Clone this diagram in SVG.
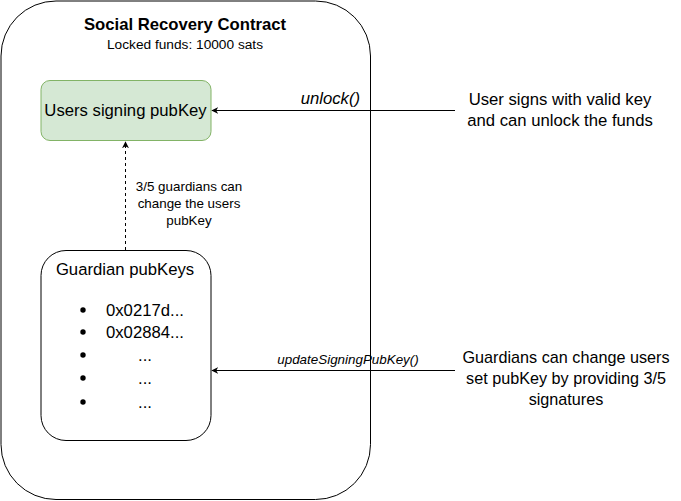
<svg xmlns="http://www.w3.org/2000/svg" width="681" height="501" viewBox="0 0 681 501">
<style>
text{font-family:"Liberation Sans",Arial,sans-serif;fill:#000}
.t16{font-size:16.7px}
.t12{font-size:13.4px}
.c{text-anchor:middle}
.line{stroke:#000;stroke-width:1;fill:none}
</style>
<defs>
<marker id="ah" viewBox="0 0 10 10" refX="9" refY="5" markerWidth="7" markerHeight="7" orient="auto" markerUnits="userSpaceOnUse">
<path d="M0,0 L10,5 L0,10 L3,5 Z" fill="#000"/>
</marker>
</defs>
<rect width="681" height="501" fill="#fff"/>
<g id="contract">
<rect x="1" y="1" width="369.5" height="498.5" rx="55" ry="55" fill="#fff" stroke="#000" stroke-width="1"/>
<text x="185" y="30" class="t16 c" font-weight="bold">Social Recovery Contract</text>
<text x="185" y="49" class="c" font-size="13.7px">Locked funds: 10000 sats</text>
</g>
<g id="signing-key">
<rect x="41" y="80.5" width="170" height="60" rx="9" ry="9" fill="#d5e8d4" stroke="#82b366"/>
<text x="125.5" y="116" class="t16 c">Users signing pubKey</text>
</g>
<g id="guardian-keys">
<rect x="41" y="250.5" width="170" height="190" rx="25" ry="25" fill="#fff" stroke="#000"/>
<text x="125" y="275" class="t16 c">Guardian pubKeys</text>
<circle cx="83" cy="310" r="2.7"/>
<circle cx="83" cy="332" r="2.7"/>
<circle cx="83" cy="355" r="2.7"/>
<circle cx="83" cy="378" r="2.7"/>
<circle cx="83" cy="402" r="2.7"/>
<text x="106" y="316" class="t16">0x0217d...</text>
<text x="106" y="338" class="t16">0x02884...</text>
<text x="145" y="361" class="t16 c">...</text>
<text x="145" y="384" class="t16 c">...</text>
<text x="145" y="408" class="t16 c">...</text>
</g>
<g id="user-note">
<text x="560" y="105" class="t16 c">User signs with valid key</text>
<text x="560" y="126" class="t16 c">and can unlock the funds</text>
</g>
<g id="guardian-note">
<text x="566" y="363" class="c" font-size="16.2px">Guardians can change users</text>
<text x="566" y="384" class="c" font-size="16.2px">set pubKey by providing 3/5</text>
<text x="566" y="405" class="c" font-size="16.2px">signatures</text>
</g>
<g id="connectors">
<line x1="455" y1="110.5" x2="212" y2="110.5" class="line" marker-end="url(#ah)"/>
<text x="360" y="104" class="t16" font-style="italic" text-anchor="end">unlock()</text>
<line x1="455" y1="370.5" x2="212" y2="370.5" class="line" marker-end="url(#ah)"/>
<text x="348" y="364" class="t12 c" font-style="italic">updateSigningPubKey()</text>
<line x1="125.5" y1="250" x2="125.5" y2="142" class="line" stroke-dasharray="3 3" marker-end="url(#ah)"/>
<text x="189" y="191" class="t12 c">3/5 guardians can</text>
<text x="189" y="208" class="t12 c">change the users</text>
<text x="189" y="225" class="t12 c">pubKey</text>
</g>
</svg>
